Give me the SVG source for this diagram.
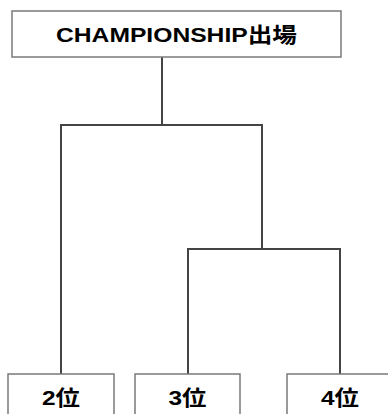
<svg xmlns="http://www.w3.org/2000/svg" width="388" height="414" viewBox="0 0 388 414">
<style>
.box{fill:#fff;stroke:#7a7a7a;stroke-width:1.5}
.lbl{font-family:"Liberation Sans","Noto Sans CJK JP",sans-serif;font-weight:bold;fill:#000;text-anchor:middle}
.conn{fill:none;stroke:#444;stroke-width:2;stroke-linejoin:miter}
</style>
<rect width="388" height="414" fill="#fff"/>
<g id="connectors">
<path class="conn" d="M162 57 V125"/>
<path class="conn" d="M61 374 V125 H262 V249"/>
<path class="conn" d="M188 374 V249 H340 V374"/>
</g>
<g id="node-top">
<rect class="box" x="12" y="11" width="329" height="46"/>
<text class="lbl" x="176.5" y="42" font-size="21" textLength="241" lengthAdjust="spacingAndGlyphs">CHAMPIONSHIP出場</text>
</g>
<g id="node-2">
<rect class="box" x="8" y="374" width="106" height="50"/>
<text class="lbl" x="61" y="405" font-size="21" textLength="38" lengthAdjust="spacingAndGlyphs">2位</text>
</g>
<g id="node-3">
<rect class="box" x="135" y="374" width="105" height="50"/>
<text class="lbl" x="187.5" y="405" font-size="21" textLength="38" lengthAdjust="spacingAndGlyphs">3位</text>
</g>
<g id="node-4">
<rect class="box" x="287" y="374" width="106" height="50"/>
<text class="lbl" x="340" y="405" font-size="21" textLength="38" lengthAdjust="spacingAndGlyphs">4位</text>
</g>
</svg>
